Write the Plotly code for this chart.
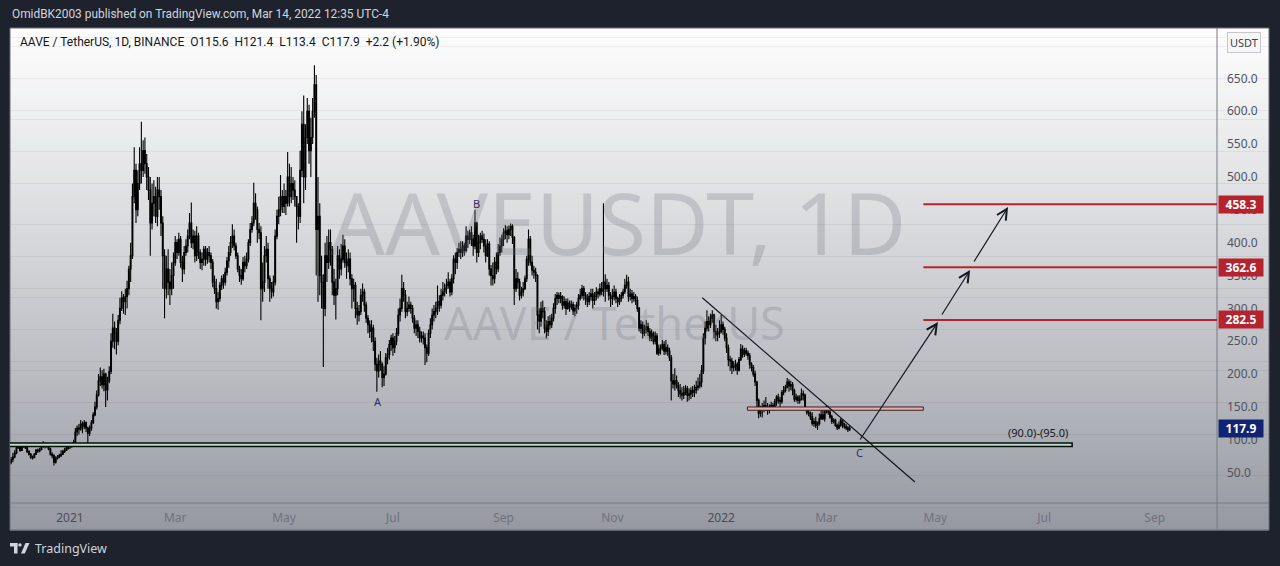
import numpy as np
import pandas as pd
import plotly.graph_objects as go

# ---------------- data ----------------
START = "2020-11-28"
FIRST_OPEN = 62

CLOSE = [
    66, 70, 74,  # Nov 2020
    80, 88, 90, 84, 90, 91, 88, 82, 78, 74, 73, 78, 84, 83, 85, 90, 94, 90, 92, 86, 78, 76, 66, 72, 74, 76, 78, 82, 84, 87, 89,
    90, 92, 96, 112, 118, 116, 124, 120, 126, 118, 110, 118, 126, 138, 150, 168, 190, 196, 184, 200, 176, 190, 204, 250, 270, 262, 250, 282, 300, 316, 310,
    318, 330, 360, 380, 470, 510, 450, 490, 520, 510, 540, 520, 500, 480, 430, 460, 470, 440, 480, 470, 430, 380, 330, 360, 340, 330, 350, 370,
    400, 385, 405, 370, 360, 385, 395, 410, 430, 400, 410, 380, 410, 385, 370, 375, 390, 375, 385, 380, 370, 340, 330, 310, 315, 335, 345, 340, 355, 372, 385,
    400, 410, 395, 380, 360, 350, 345, 370, 365, 375, 400, 420, 430, 460, 450, 420, 415, 330, 340, 380, 390, 345, 330, 325, 340, 410, 440, 450, 470, 455,
    470, 460, 500, 470, 490, 480, 470, 455, 440, 510, 580, 500, 560, 600, 540, 560, 600, 640, 420, 440, 350, 340, 300, 380, 370, 400, 390, 340, 320, 330, 380,
    360, 375, 395, 370, 365, 375, 345, 330, 335, 300, 290, 295, 320, 325, 305, 285, 275, 265, 270, 250, 215, 205, 220, 215, 195, 200, 225, 230, 245, 255,
    240, 250, 262, 290, 300, 330, 320, 295, 300, 305, 300, 285, 270, 275, 265, 255, 258, 255, 240, 232, 262, 275, 290, 295, 300, 310, 305, 320, 325, 330, 335,
    340, 325, 345, 375, 370, 385, 390, 385, 395, 388, 410, 405, 415, 405, 395, 430, 385, 400, 410, 405, 395, 380, 398, 360, 350, 345, 370, 360, 385, 395, 405,
    415, 418, 412, 420, 425, 408, 330, 345, 340, 320, 325, 330, 345, 375, 405, 370, 358, 355, 350, 290, 280, 300, 295, 270, 265, 280, 275, 285, 300, 315,
    320, 315, 318, 305, 310, 300, 308, 302, 306, 296, 300, 305, 315, 320, 330, 320, 315, 310, 318, 322, 312, 318, 325, 322, 330, 326, 340, 330, 335, 320, 315,
    318, 325, 315, 310, 315, 320, 325, 335, 340, 318, 322, 315, 318, 312, 300, 270, 275, 262, 268, 272, 265, 255, 262, 250, 258, 232, 238, 240, 245, 235,
    240, 235, 225, 190, 185, 190, 182, 175, 170, 168, 172, 178, 168, 170, 175, 172, 176, 180, 182, 188, 205, 255, 270, 280, 275, 285, 290, 265, 260, 262, 265,
    275, 268, 255, 240, 222, 220, 210, 212, 215, 206, 222, 238, 230, 236, 232, 228, 215, 210, 200, 188, 160, 140, 148, 150, 152, 150, 145, 150, 152, 148, 158,
    165, 160, 158, 172, 175, 180, 188, 182, 184, 175, 162, 165, 160, 162, 170, 168, 148, 142, 140, 135, 125, 128, 122, 125, 132, 138, 132, 145,
    150, 142, 135, 128, 130, 122, 118, 122, 130, 124, 120, 118, 115.6, 117.9,
]

HIGH = [
    70, 74, 80,
    84, 90, 95, 92, 92, 94, 93, 89, 84, 80, 76, 80, 86, 87, 88, 92, 98, 96, 95, 93, 88, 81, 78, 75, 77, 79, 84, 85, 88, 90, 92,
    92, 95, 100, 118, 122, 124, 130, 128, 130, 128, 120, 122, 130, 142, 158, 175, 200, 210, 206, 208, 202, 196, 212, 262, 292, 280, 270, 290, 316, 326, 322,
    330, 342, 365, 400, 490, 545, 520, 510, 545, 584, 556, 560, 535, 515, 500, 490, 495, 485, 500, 500, 480, 440, 390, 380, 390, 360, 370, 385,
    410, 405, 415, 410, 380, 395, 405, 420, 445, 461, 420, 418, 425, 415, 390, 385, 395, 395, 392, 395, 385, 375, 350, 345, 325, 340, 350, 352, 362, 378, 395,
    410, 428, 420, 400, 385, 365, 360, 378, 380, 385, 405, 430, 440, 491, 475, 455, 430, 425, 370, 395, 410, 400, 350, 340, 350, 420, 450, 470, 503, 480,
    490, 480, 538, 520, 515, 500, 495, 470, 460, 540, 600, 624, 580, 620, 610, 590, 620, 670, 655, 500, 460, 380, 352, 400, 410, 420, 420, 395, 360, 345, 395,
    390, 398, 412, 405, 385, 390, 385, 352, 345, 340, 310, 305, 330, 338, 330, 310, 290, 282, 282, 275, 256, 225, 230, 235, 218, 212, 232, 240, 252, 260,
    262, 258, 270, 300, 315, 351, 340, 328, 310, 318, 310, 305, 290, 282, 282, 272, 265, 265, 262, 245, 268, 285, 300, 305, 310, 335, 320, 330, 340, 338, 345,
    355, 345, 352, 381, 385, 392, 400, 402, 402, 400, 425, 418, 420, 425, 412, 450, 432, 412, 415, 418, 414, 405, 405, 402, 366, 370, 378, 385, 398, 408, 412,
    422, 427, 425, 426, 429, 428, 410, 360, 355, 345, 333, 340, 350, 380, 420, 410, 380, 365, 362, 352, 300, 310, 312, 302, 282, 288, 290, 292, 308, 322,
    325, 324, 325, 320, 318, 315, 315, 312, 312, 310, 306, 310, 322, 330, 336, 334, 325, 322, 325, 330, 330, 325, 332, 330, 338, 340, 460, 352, 345, 340, 325,
    330, 335, 330, 318, 322, 325, 330, 345, 351, 348, 330, 328, 325, 322, 318, 302, 282, 280, 275, 282, 278, 270, 268, 265, 265, 262, 245, 245, 252, 250,
    252, 245, 240, 229, 200, 209, 198, 188, 185, 180, 182, 183, 182, 178, 180, 182, 184, 190, 195, 200, 214, 262, 280, 297, 288, 292, 297, 292, 275, 270, 282,
    290, 280, 272, 262, 245, 228, 225, 220, 222, 218, 226, 246, 244, 240, 240, 236, 232, 218, 214, 205, 190, 163, 152, 156, 160, 165, 156, 154, 158, 156, 162,
    168, 170, 165, 176, 182, 184, 194, 192, 190, 188, 178, 170, 168, 168, 178, 175, 170, 150, 146, 143, 142, 133, 135, 128, 140, 148, 145, 150,
    153, 152, 145, 138, 133, 132, 125, 128, 133, 131, 126, 124, 121, 121.4,
]

LOW = [
    59, 63, 66,
    72, 78, 86, 82, 83, 88, 86, 80, 76, 71, 70, 72, 77, 80, 81, 84, 88, 87, 88, 84, 76, 72, 61, 64, 70, 72, 74, 77, 80, 83, 85,
    86, 88, 90, 94, 106, 108, 114, 110, 116, 112, 95, 106, 114, 124, 136, 146, 166, 182, 178, 174, 150, 160, 186, 200, 240, 238, 230, 244, 276, 296, 292,
    290, 300, 320, 340, 375, 460, 430, 440, 480, 490, 500, 505, 480, 465, 380, 420, 440, 430, 425, 450, 410, 330, 285, 315, 320, 305, 320, 330,
    365, 375, 380, 362, 340, 352, 380, 385, 405, 392, 390, 370, 372, 375, 360, 358, 365, 365, 368, 370, 360, 332, 322, 300, 298, 310, 328, 330, 335, 350, 362,
    380, 392, 388, 375, 355, 340, 336, 342, 355, 360, 370, 395, 415, 425, 435, 400, 405, 282, 310, 325, 370, 330, 310, 315, 318, 335, 405, 428, 440, 445,
    445, 442, 455, 455, 460, 465, 455, 400, 420, 430, 500, 460, 480, 550, 520, 500, 550, 590, 350, 310, 320, 300, 211, 288, 340, 360, 365, 320, 305, 283, 320,
    345, 350, 370, 362, 345, 355, 335, 300, 310, 285, 275, 280, 290, 310, 295, 278, 262, 255, 248, 235, 205, 173, 195, 205, 180, 182, 198, 215, 222, 235,
    228, 232, 244, 258, 280, 295, 310, 285, 288, 295, 292, 278, 262, 258, 255, 248, 248, 245, 214, 218, 228, 255, 268, 280, 285, 290, 295, 300, 312, 318, 322,
    330, 318, 320, 338, 352, 360, 378, 375, 378, 380, 385, 392, 398, 395, 380, 390, 370, 378, 390, 400, 385, 370, 378, 350, 335, 335, 338, 352, 355, 380, 385,
    395, 405, 400, 405, 410, 398, 305, 325, 330, 312, 315, 318, 328, 340, 365, 365, 350, 345, 340, 268, 262, 272, 285, 262, 254, 258, 268, 270, 280, 292,
    305, 308, 308, 298, 300, 290, 298, 295, 298, 290, 288, 292, 298, 312, 315, 312, 305, 302, 305, 312, 300, 305, 312, 315, 318, 320, 318, 310, 325, 312, 302,
    305, 312, 308, 302, 305, 310, 315, 322, 330, 310, 312, 308, 310, 305, 295, 265, 262, 254, 258, 262, 258, 250, 250, 245, 245, 229, 228, 230, 236, 229,
    230, 228, 220, 160, 178, 175, 178, 165, 163, 160, 162, 168, 158, 160, 162, 165, 165, 170, 175, 178, 180, 200, 245, 265, 265, 270, 278, 254, 250, 250, 255,
    262, 260, 250, 232, 212, 205, 200, 204, 205, 199, 204, 220, 225, 226, 228, 222, 208, 204, 196, 182, 150, 133, 135, 134, 142, 144, 138, 140, 146, 144, 146,
    152, 155, 150, 155, 168, 172, 178, 173, 176, 168, 158, 158, 155, 155, 160, 160, 145, 138, 136, 130, 122, 120, 118, 115, 122, 130, 130, 128,
    140, 138, 132, 124, 125, 120, 115, 116, 120, 118, 117, 115, 112, 113.4,
]

PRICE_TICKS = [50, 100, 150, 200, 250, 300, 350, 400, 450, 500, 550, 600, 650]
TIME_TICKS = ["2021-01-01", "2021-03-01", "2021-05-01", "2021-07-01", "2021-09-01", "2021-11-01",
              "2022-01-01", "2022-03-01", "2022-05-01", "2022-07-01", "2022-09-01"]
TIME_LABELS = ["2021", "Mar", "May", "Jul", "Sep", "Nov", "2022", "Mar", "May", "Jul", "Sep"]

TARGET_LEVELS = [282.5, 362.6, 458.3]
TARGET_START = "2022-04-24 07:00"
LAST_PRICE = 117.9
SUPPORT_ZONE = [90.0, 95.0]
SUPPORT_END = "2022-07-16 17:00"
BOX_ZONE = [145.0, 150.0]
BOX_DATES = ["2022-01-15 17:00", "2022-04-24 07:00"]
TREND_DATES = ["2021-12-21 10:00", "2022-04-19 14:00"]
TREND_PRICES = [316.2, 35.9]
ARROW_TAIL_DATES = ["2022-03-19 07:00", "2022-05-04 05:00", "2022-05-22 05:00"]
ARROW_TAIL_PRICES = [98.2, 288.4, 369.0]
ARROW_HEAD_DATES = ["2022-05-02 12:00", "2022-05-20 12:00", "2022-06-10 19:00"]
ARROW_HEAD_PRICES = [279.3, 358.4, 454.2]
WAVE_LABELS = ["A", "B", "C"]
WAVE_DATES = ["2021-06-22 14:00", "2021-08-16 14:00", "2022-03-19 07:00"]
WAVE_PRICES = [159, 460, 80]

X_RANGE = ["2020-11-28 09:00", "2022-10-05 21:30"]
Y_RANGE = [3.9, 726.6]

# ---------------- build ----------------
dates = pd.date_range(START, periods=len(CLOSE), freq="D")
opens = [FIRST_OPEN] + CLOSE[:-1]
highs = [max(h, o, c) for h, o, c in zip(HIGH, opens, CLOSE)]
lows = [min(l, o, c) for l, o, c in zip(LOW, opens, CLOSE)]

W, H = 1280, 566
ML, MR, MT, MB = 10, 63, 28, 63
PW, PH = W - ML - MR, H - MT - MB


def px(x):
    return (x - ML) / PW


def py(y):
    return (H - MB - y) / PH


fig = go.Figure()
fig.add_trace(go.Candlestick(
    x=dates, open=opens, high=highs, low=lows, close=CLOSE,
    increasing=dict(line=dict(color="#000000", width=1.1), fillcolor="#000000"),
    decreasing=dict(line=dict(color="#000000", width=1.1), fillcolor="#000000"),
    whiskerwidth=0, hoverinfo="skip", showlegend=False,
))

shapes = []
# vertical gradient background of the chart pane (style)
n = 110
top_c = np.array([253, 253, 253])
bot_c = np.array([150, 153, 162])
y_top, y_bot = 28, 530
for i in range(n):
    t = (i + 0.5) / n
    t2 = t ** 1.15
    c = top_c + (bot_c - top_c) * t2
    ya = y_top + (y_bot - y_top) * i / n
    yb = y_top + (y_bot - y_top) * (i + 1) / n + 0.6
    shapes.append(dict(type="rect", xref="paper", yref="paper", layer="below",
                       x0=px(10), x1=px(1269), y0=py(yb), y1=py(ya),
                       fillcolor="rgb(%d,%d,%d)" % tuple(c.astype(int)), line=dict(width=0)))
# pane border and separators
shapes.append(dict(type="rect", xref="paper", yref="paper", layer="above",
                   x0=px(10), x1=px(1269), y0=py(530), y1=py(28),
                   line=dict(color="#6a6d78", width=1)))
shapes.append(dict(type="line", xref="paper", yref="paper", x0=px(1217), x1=px(1217),
                   y0=py(530), y1=py(28), line=dict(color="#787b86", width=1)))
shapes.append(dict(type="line", xref="paper", yref="paper", x0=px(10), x1=px(1269),
                   y0=py(503), y1=py(503), line=dict(color="#787b86", width=1)))

# support zone (90-95)
shapes.append(dict(type="rect", xref="x", yref="y", x0="2020-11-01", x1=SUPPORT_END,
                   y0=SUPPORT_ZONE[0], y1=SUPPORT_ZONE[1], fillcolor="#b7dec6",
                   line=dict(color="#0c0c0c", width=1.5)))
# pink box
shapes.append(dict(type="rect", xref="x", yref="y", x0=BOX_DATES[0], x1=BOX_DATES[1],
                   y0=BOX_ZONE[0], y1=BOX_ZONE[1], fillcolor="#e3aeb0",
                   line=dict(color="#3a2020", width=1)))
# target lines
for lv in TARGET_LEVELS:
    shapes.append(dict(type="line", xref="x", yref="y", x0=TARGET_START, x1="2023-06-01",
                       y0=lv, y1=lv, line=dict(color="#b5232f", width=2)))
# trend line
shapes.append(dict(type="line", xref="x", yref="y", x0=TREND_DATES[0], x1=TREND_DATES[1],
                   y0=TREND_PRICES[0], y1=TREND_PRICES[1], line=dict(color="#131722", width=1.2)))

# TradingView logo (style)
logo_c = "#d1d4dc"
shapes.append(dict(type="rect", xref="paper", yref="paper", x0=px(10), x1=px(17.5), y0=py(546.5), y1=py(543),
                   fillcolor=logo_c, line=dict(width=0)))
shapes.append(dict(type="rect", xref="paper", yref="paper", x0=px(14), x1=px(17.5), y0=py(553.5), y1=py(543),
                   fillcolor=logo_c, line=dict(width=0)))
shapes.append(dict(type="circle", xref="paper", yref="paper", x0=px(18.3), x1=px(21.7), y0=py(546.6), y1=py(543.2),
                   fillcolor=logo_c, line=dict(width=0)))
shapes.append(dict(type="path", xref="paper", yref="paper",
                   path="M %f %f L %f %f L %f %f L %f %f Z" % (px(21), py(553.5), px(24.8), py(553.5),
                                                             px(29.5), py(543), px(25.5), py(543)),
                   fillcolor=logo_c, line=dict(width=0)))

annotations = []
# header texts
annotations.append(dict(xref="paper", yref="paper", x=px(10), y=py(14), xanchor="left", yanchor="middle",
                        text="OmidBK2003 published on TradingView.com, Mar 14, 2022 12:35 UTC-4",
                        showarrow=False, font=dict(family="Roboto", size=11.9, color="#d1d4dc")))
annotations.append(dict(xref="paper", yref="paper", x=px(18), y=py(42), xanchor="left", yanchor="middle",
                        text="AAVE / TetherUS, 1D, BINANCE&nbsp;&nbsp;O115.6&nbsp;&nbsp;H121.4&nbsp;&nbsp;L113.4&nbsp;&nbsp;C117.9&nbsp;&nbsp;+2.2 (+1.90%)",
                        showarrow=False, font=dict(family="Roboto", size=12, color="#131722")))
annotations.append(dict(xref="paper", yref="paper", x=px(33), y=py(548), xanchor="left", yanchor="middle",
                        text="TradingView", showarrow=False,
                        font=dict(family="Noto Sans", size=12.5, color="#d1d4dc")))
# watermarks
annotations.append(dict(xref="paper", yref="paper", x=px(618), y=py(222), xanchor="center", yanchor="middle",
                        text="AAVEUSDT, 1D", showarrow=False,
                        font=dict(family="Noto Sans", size=86, color="rgba(110,112,122,0.26)")))
annotations.append(dict(xref="paper", yref="paper", x=px(614), y=py(322), xanchor="center", yanchor="middle",
                        text="AAVE / TetherUS", showarrow=False,
                        font=dict(family="Noto Sans", size=45, color="rgba(110,112,122,0.26)")))
# USDT box
annotations.append(dict(xref="paper", yref="paper", x=px(1244), y=py(42.5), xanchor="center", yanchor="middle",
                        text="USDT", showarrow=False, bgcolor="#f7f7f8", bordercolor="#c5c7cd",
                        borderwidth=1, borderpad=2, font=dict(family="Noto Sans", size=11, color="#3b3e48")))
# support zone label
annotations.append(dict(xref="x", yref="y", x=SUPPORT_END, y=SUPPORT_ZONE[1], xanchor="right", yanchor="bottom",
                        yshift=1, xshift=-2, text="(90.0)-(95.0)", showarrow=False,
                        font=dict(family="Noto Sans", size=11, color="#131722")))
# wave labels
for lab, d, p in zip(WAVE_LABELS, WAVE_DATES, WAVE_PRICES):
    annotations.append(dict(xref="x", yref="y", x=d, y=p, text=lab, showarrow=False,
                            xanchor="center", yanchor="middle",
                            font=dict(family="Noto Sans", size=11, color="#2a2e6b")))
# arrows
for td, tp, hd, hp in zip(ARROW_TAIL_DATES, ARROW_TAIL_PRICES, ARROW_HEAD_DATES, ARROW_HEAD_PRICES):
    annotations.append(dict(xref="x", yref="y", axref="x", ayref="y", x=hd, y=hp, ax=td, ay=tp,
                            text="", showarrow=True, arrowhead=5, arrowsize=1.7, arrowwidth=1.2,
                            arrowcolor="#131722", standoff=0))
# price axis markers
for lv in TARGET_LEVELS:
    annotations.append(dict(xref="paper", yref="y", x=1.0, y=lv, xanchor="left", yanchor="middle", xshift=1,
                            text="<b>%.1f</b>" % lv, showarrow=False, bgcolor="#b5232f", width=40, height=13,
                            borderpad=2, align="center",
                            font=dict(family="Noto Sans", size=12, color="#ffffff")))
annotations.append(dict(xref="paper", yref="y", x=1.0, y=LAST_PRICE, xanchor="left", yanchor="middle", xshift=1,
                        text="<b>%.1f</b>" % LAST_PRICE, showarrow=False, bgcolor="#112473", width=40, height=13,
                        borderpad=2, align="center",
                        font=dict(family="Noto Sans", size=12, color="#ffffff")))

time_text = []
for lab in TIME_LABELS:
    if lab.isdigit():
        time_text.append('<span style="color:#4a4d57">%s</span>' % lab)
    else:
        time_text.append(lab)

fig.update_layout(
    width=W, height=H,
    margin=dict(l=ML, r=MR, t=MT, b=MB, pad=0),
    paper_bgcolor="#1e222d",
    plot_bgcolor="rgba(0,0,0,0)",
    showlegend=False,
    shapes=shapes,
    annotations=annotations,
    font=dict(family="Noto Sans", size=12),
    xaxis=dict(type="date", range=X_RANGE, rangeslider=dict(visible=False),
               showgrid=False, zeroline=False, showline=False, ticks="",
               tickvals=TIME_TICKS, ticktext=time_text, ticklabelstandoff=6,
               tickfont=dict(family="Noto Sans", size=12, color="#6f727d"), fixedrange=True),
    yaxis=dict(side="right", range=Y_RANGE, showgrid=False, zeroline=False, showline=False, ticks="",
               tickvals=PRICE_TICKS, ticktext=["%.1f" % v for v in PRICE_TICKS], ticklabelstandoff=9,
               tickfont=dict(family="Noto Sans", size=12, color="#50535e"), fixedrange=True),
)

fig.write_html("out.html", config={"displayModeBar": False},
               post_script="document.body.style.margin='0';document.body.style.background='#1e222d';")
